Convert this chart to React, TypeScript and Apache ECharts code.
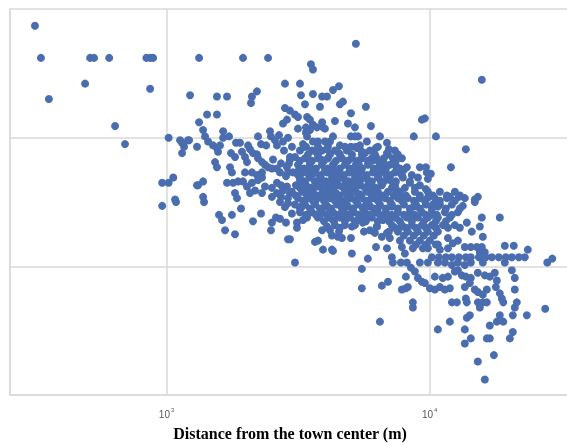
import React, { useEffect, useRef } from "react";
import * as echarts from "echarts";

// [distance (m), value]
const leftCloud: number[][] = [
  [316, 2.87], [333, 2.62], [357, 2.3], [490, 2.42], [512, 2.62], [530, 2.62], [605, 2.62], [838, 2.62],
  [866, 2.62], [889, 2.62], [866, 2.38], [637, 2.09], [695, 1.95], [1018, 2.0], [1125, 1.98], [1145, 1.96],
  [1165, 1.93], [1217, 1.98], [1228, 2.33], [1329, 2.62], [1329, 2.12], [1305, 1.93], [962, 1.65], [1018, 1.65],
  [1060, 1.69], [962, 1.47], [1086, 1.5], [1145, 1.88], [1305, 1.63], [1206, 1.98], [1317, 1.63], [1077, 1.52],
];

const midCloud: number[][] = [
  [1952, 2.62], [2430, 2.62], [2818, 2.42], [1554, 2.32], [1697, 2.32], [2206, 2.36], [2111, 2.32], [2093, 2.27],
  [2818, 2.23], [1425, 2.18], [1554, 2.18], [2770, 2.11], [2868, 2.14], [1376, 2.06], [1640, 2.05], [2472, 2.05],
  [1400, 2.01], [1438, 1.97], [1502, 1.94], [1554, 1.92], [1596, 1.94], [1640, 2.0], [1568, 1.89], [1727, 2.01],
  [1836, 1.96], [1901, 1.96], [1757, 1.88], [1820, 1.85], [2226, 2.01], [2285, 1.95], [2493, 2.01], [2582, 1.98],
  [2675, 2.02], [2770, 1.97], [2893, 2.0], [1935, 1.89], [1986, 1.85], [2021, 1.81], [2075, 1.91], [2130, 1.88],
  [2206, 1.87], [2226, 1.84], [2305, 1.81], [2366, 1.79], [2430, 1.77], [2538, 1.83], [2514, 1.76], [2628, 1.76],
  [2722, 1.8], [2868, 1.77], [2944, 1.83], [1528, 1.81], [1554, 1.77], [1742, 1.77], [1772, 1.73], [2206, 1.71],
  [2305, 1.69], [1376, 1.66], [1697, 1.65], [1790, 1.65], [1868, 1.66], [1952, 1.66], [2021, 1.62], [2111, 1.65],
  [2168, 1.59], [2226, 1.67], [2366, 1.62], [2514, 1.61], [2628, 1.65], [2722, 1.63], [2868, 1.62], [1820, 1.57],
  [1852, 1.53], [1376, 1.54], [2514, 1.54], [2722, 1.54], [1388, 1.5], [1582, 1.4], [1624, 1.36], [1772, 1.4],
  [1918, 1.45], [1668, 1.28], [1820, 1.25], [2130, 1.35], [2285, 1.41], [2493, 1.28], [2514, 1.34], [2605, 1.38],
  [2698, 1.37], [2818, 1.46], [2893, 1.49], [2893, 1.21], [2698, 1.5],
  [2040, 1.94], [2390, 1.94], [2628, 1.94], [1986, 1.73], [2111, 1.73], [2305, 1.73], [2698, 1.73], [2893, 1.73],
  [2075, 1.57], [2305, 1.57], [2628, 1.57], [2944, 1.57],
];

const upperCloud: number[][] = [
  [5240, 2.73], [3537, 2.57], [3600, 2.53], [3213, 2.42], [3242, 2.33], [3600, 2.34], [4290, 2.37], [4520, 2.4],
  [3900, 2.32], [4070, 2.32], [3357, 2.26], [3827, 2.24], [4559, 2.26], [4680, 2.28], [5020, 2.19], [5720, 2.24],
  [2944, 2.21], [3076, 2.18], [3158, 2.16], [3420, 2.16], [3507, 2.14], [4364, 2.13], [3900, 2.12], [3930, 2.08],
  [3158, 2.07], [3385, 2.08], [3507, 2.06], [3600, 2.1], [3730, 2.08], [3998, 2.07], [4890, 2.11], [5198, 2.08],
  [5980, 2.09], [9340, 2.14], [3385, 2.04], [3420, 2.01], [5020, 2.01], [5198, 2.01], [5340, 2.01], [6468, 2.01],
  [8700, 2.01], [4290, 2.01], [4177, 1.97], [3998, 1.97], [3760, 1.97], [3600, 1.97], [3300, 1.95], [4559, 1.94],
  [5430, 1.94], [5770, 1.97], [6880, 1.96], [5290, 1.92], [5673, 1.88], [6880, 1.88], [6250, 1.85], [7245, 1.84],
  [2944, 1.85], [3076, 1.85], [8190, 1.77], [9177, 1.77], [8550, 1.71], [9020, 1.69], [8408, 1.65], [7500, 1.77],
  [7704, 1.73],
  [2995, 1.93], [3387, 1.93], [3760, 1.93], [4105, 1.93], [4762, 1.93], [5240, 1.93], [6355, 1.93],
];

// dense core, read row by row: level value and the distances on that row
const coreLevels: number[] = [
  1.9, 1.87, 1.84, 1.82, 1.79, 1.76, 1.73, 1.71, 1.69, 1.66, 1.63, 1.61, 1.58, 1.55, 1.53, 1.51,
  1.48, 1.45, 1.42, 1.4, 1.38, 1.35, 1.32, 1.3, 1.27, 1.24, 1.2, 1.17, 1.14, 1.03,
];
const coreDistances: number[][] = [
  [3213, 3570, 3895, 4364, 4845, 5926, 7375],
  [3447, 3760, 4177, 4559, 5065, 5526, 6191, 6937, 7570],
  [3357, 3760, 4105, 4640, 5065, 5526, 6030, 6698, 7840],
  [3213, 3570, 3964, 4403, 4888, 5335, 5823, 6355, 7440],
  [3158, 3507, 3895, 4290, 4762, 5240, 5823, 6468, 7059],
  [3328, 3697, 4105, 4559, 4975, 5526, 6137, 6816, 7704],
  [3020, 3300, 3664, 4070, 4480, 4975, 5478, 6083, 6757, 7375],
  [3158, 3477, 3861, 4290, 4720, 5240, 5773, 6411, 7059, 7840],
  [3213, 3507, 3827, 4250, 4680, 5198, 5723, 6355, 7059, 7910],
  [3357, 3664, 4033, 4440, 4930, 5430, 6030, 6698, 7440, 8408],
  [3100, 3387, 3730, 4105, 4480, 4930, 5430, 5926, 6582, 7375, 9177],
  [3213, 3538, 3895, 4290, 4720, 5150, 5673, 6245, 7184, 8049, 8784],
  [2995, 3270, 3600, 3930, 4325, 4762, 5240, 5773, 6355, 6937, 7704, 8784, 9840, 10931, 12462],
  [3100, 3417, 3760, 4140, 4559, 4975, 5478, 6030, 6640, 7310, 8120, 9177, 10280, 11625, 13020],
  [3158, 3447, 3760, 4177, 4559, 5020, 5526, 6137, 6757, 7570, 8262, 9177, 10463, 11625, 13601],
  [3300, 3600, 3964, 4364, 4804, 5240, 5773, 6355, 7059, 7840, 8706, 9587, 10931, 12462],
  [3076, 3357, 3664, 4033, 4440, 4845, 5335, 5874, 6468, 7184, 7980, 8862, 9670, 10931, 12140],
  [3213, 3507, 3827, 4214, 4640, 5065, 5575, 6137, 6816, 7570, 8408, 9177, 10190, 11520, 13020],
  [3213, 3570, 3895, 4290, 4720, 5150, 5673, 6245, 6816, 7570, 8408, 9340, 10190, 11419, 12800],
  [3387, 3697, 4070, 4480, 4930, 5382, 5926, 6468, 7184, 7980, 8784, 9670, 10648, 12140],
  [3760, 4140, 4559, 4975, 5430, 6030, 6640, 7375, 8190, 9020, 9840, 10740, 11930],
  [3964, 4325, 4762, 5198, 5723, 6355, 6998, 7704, 8556, 9503, 10555, 11520],
  [4364, 4762, 7184, 7840, 8556, 9340, 10190, 11220, 12462],
  [4559, 7375, 8120, 8862, 9670, 10555, 11730],
  [7570, 8262, 9020, 9840, 10740],
  [7980, 8706, 9503, 10370],
  [8408, 9177, 10015],
  [8862, 9670, 10555],
  [8630, 9420, 9840, 11730],
  [9177, 9840, 10740],
];

// further points inside the densest part of the core
const coreFill: number[][] = [
  [3507, 1.75], [4325, 1.75], [5288, 1.75], [6525, 1.75], [7980, 1.75],
  [3213, 1.67], [3895, 1.67], [4762, 1.67], [5823, 1.67], [7059, 1.67],
  [3387, 1.6], [4105, 1.6], [4975, 1.6], [6030, 1.6], [7440, 1.6],
  [3600, 1.535], [4403, 1.535], [5335, 1.535], [6468, 1.535], [7840, 1.535], [9840, 1.535],
  [3270, 1.465], [3998, 1.465], [4845, 1.465], [5926, 1.465], [7184, 1.465], [8706, 1.465], [10740, 1.465],
  [3827, 1.4], [4680, 1.4], [5673, 1.4], [6937, 1.4], [8408, 1.4], [10190, 1.4],
  [2794, 1.9], [2918, 1.8], [2843, 1.7], [2770, 1.59], [2893, 1.53], [2995, 1.41], [3130, 1.3], [2843, 1.34],
  [3328, 1.93], [3697, 1.89], [4070, 1.91], [4520, 1.88], [5020, 1.93], [5526, 1.89], [6245, 1.92], [6998, 1.91],
  [3507, 1.81], [3861, 1.83], [4325, 1.8], [4888, 1.82], [5382, 1.79], [6030, 1.82], [6698, 1.8], [7440, 1.78],
  [3185, 1.75], [3600, 1.72], [3998, 1.75], [4403, 1.7], [4930, 1.73], [5526, 1.7], [6137, 1.74], [6877, 1.7],
  [3328, 1.65], [3760, 1.62], [4214, 1.65], [4640, 1.62], [5198, 1.65], [5773, 1.62], [6525, 1.66], [7247, 1.62],
  [3477, 1.55], [3895, 1.55], [4403, 1.57], [4888, 1.54], [5430, 1.56], [6030, 1.53], [6757, 1.55], [7570, 1.58],
  [3270, 1.47], [3664, 1.49], [4105, 1.46], [4600, 1.48], [5110, 1.45], [5723, 1.48], [6355, 1.45], [7121, 1.47],
  [3417, 1.38], [3827, 1.4], [4290, 1.36], [4804, 1.39], [5335, 1.36], [5978, 1.39], [6640, 1.36], [7440, 1.38],
  [4070, 1.31], [4520, 1.27], [5065, 1.31], [5624, 1.27], [6300, 1.31], [6998, 1.27], [7840, 1.31],
];

const rightTail: number[][] = [
  [15780, 2.45], [10560, 2.01], [9587, 2.15], [13720, 1.91], [12040, 1.77], [9670, 1.77], [9750, 1.73], [10100, 1.72],
  [9840, 1.68], [9670, 1.6], [11930, 1.54], [12910, 1.54], [15240, 1.54], [14844, 1.52],
  [3076, 1.03], [2944, 1.21], [3130, 1.34], [3300, 1.36], [3420, 1.4], [3664, 1.19], [3760, 1.2], [3900, 1.28],
  [4177, 1.28], [4250, 1.24], [4480, 1.23], [4640, 1.22], [5020, 1.22], [3930, 1.13], [4250, 1.13], [4290, 1.12],
  [5060, 1.1], [5198, 1.32], [5820, 1.06], [5520, 0.98], [5520, 0.83], [6580, 0.85], [6940, 0.88], [6468, 0.57],
  [8630, 0.72], [8630, 0.68], [7840, 0.82], [8120, 0.83], [8260, 0.84], [7180, 1.07], [7245, 1.03], [6250, 1.15],
  [6880, 1.14], [5570, 1.34], [5926, 1.28], [6191, 1.26], [6300, 1.31], [6580, 1.23], [6880, 1.26], [7059, 1.22],
  [7704, 1.2], [7840, 1.15], [8049, 1.1], [7770, 1.03], [8190, 1.03], [8480, 0.99], [8784, 0.96], [8120, 0.92],
  [9020, 0.91], [9340, 0.88], [9587, 0.87],
  [10300, 1.48], [13360, 1.47], [14844, 1.5], [15780, 1.38], [18471, 1.38], [13840, 1.34], [14460, 1.27], [15508, 1.31],
  [13020, 1.3], [15920, 1.23], [11730, 1.22], [12250, 1.18], [12800, 1.2], [10740, 1.17], [10931, 1.13], [13601, 1.15],
  [14330, 1.15], [15100, 1.15], [15780, 1.15], [15508, 1.11], [16200, 1.11], [19297, 1.16], [20870, 1.16], [23600, 1.13],
  [10190, 1.07], [10830, 1.07], [11520, 1.07], [12140, 1.07], [12900, 1.07], [13720, 1.07], [14330, 1.07], [15380, 1.07],
  [16340, 1.07], [17230, 1.07], [18300, 1.07], [19470, 1.07], [20530, 1.07], [21810, 1.07], [22985, 1.07], [29240, 1.06],
  [27980, 1.03], [19297, 1.03], [15920, 1.03], [11419, 1.03], [12140, 1.01], [12800, 1.03], [13601, 1.01], [14330, 1.03],
  [10463, 0.92], [11210, 0.91], [11730, 0.92], [12462, 0.96], [12800, 0.97], [13250, 0.93], [13720, 0.92], [14330, 0.91],
  [15240, 0.95], [16200, 0.93], [16925, 0.92], [17680, 0.95], [18000, 0.89], [20530, 0.97], [21060, 0.91], [17840, 0.84],
  [18471, 0.79], [18800, 0.75], [19040, 0.72], [10015, 0.83], [10463, 0.82], [10931, 0.84], [11419, 0.82], [11930, 0.83],
  [13601, 0.84], [14209, 0.87], [14844, 0.82], [15240, 0.8], [16490, 0.82], [15920, 0.78], [21060, 0.82], [13720, 0.75],
  [13840, 0.72], [12140, 0.72], [12690, 0.72], [15240, 0.72], [15920, 0.72], [16490, 0.72], [15508, 0.68], [21440, 0.72],
  [21060, 0.68], [20700, 0.62], [23400, 0.62], [27480, 0.67], [14209, 0.62], [13840, 0.6], [11930, 0.57], [10740, 0.51],
  [13601, 0.51], [16925, 0.54], [18000, 0.57], [18471, 0.62], [19040, 0.57], [20700, 0.49], [14330, 0.44], [13601, 0.4],
  [16490, 0.44], [16925, 0.44], [20160, 0.44], [17540, 0.31], [15240, 0.26], [16200, 0.12],
];

const xTickLabels: Record<number, string> = { 3: "3", 4: "4" };
const axisTitle = "Distance from the town center (m)";

export default function App() {
  const ref = useRef<HTMLDivElement>(null);
  useEffect(() => {
    if (!ref.current) return;
    const chart = echarts.init(ref.current, undefined, { renderer: "svg" });
    const core: number[][] = [];
    coreLevels.forEach((v, i) => coreDistances[i].forEach((d) => core.push([d, v])));
    const data = [...leftCloud, ...midCloud, ...upperCloud, ...core, ...coreFill, ...rightTail];
    const grid = "#d9d9d9";
    chart.setOption({
      animation: false,
      grid: {
        left: 10,
        width: 560,
        top: 9,
        height: 386,
        containLabel: false,
        outerBoundsMode: "none",
      },
      xAxis: {
        type: "log",
        logBase: 10,
        min: 254,
        max: 34140,
        axisLine: { show: true, lineStyle: { color: grid, width: 1.5 } },
        axisTick: { show: false },
        splitLine: { show: true, lineStyle: { color: grid, width: 1.5 } },
        axisLabel: {
          margin: 12,
          formatter: (v: number) => {
            const l = Math.log10(v);
            const r = Math.round(l);
            if (Math.abs(l - r) < 1e-6 && xTickLabels[r]) return `{b|10}{s|${xTickLabels[r]}}`;
            return "";
          },
          rich: {
            b: { fontSize: 10, color: "#595959", fontFamily: "Liberation Sans", lineHeight: 12 },
            s: { fontSize: 6, color: "#595959", fontFamily: "Liberation Sans", padding: [0, 0, 8, 1] },
          },
        },
        name: axisTitle,
        nameLocation: "middle",
        nameGap: 30,
        nameTextStyle: {
          fontFamily: "Liberation Serif",
          fontWeight: "bold",
          fontSize: 16,
          color: "#000",
        },
      },
      yAxis: {
        type: "value",
        min: 0,
        max: 3,
        interval: 1,
        axisLine: { show: true, lineStyle: { color: grid, width: 1.5 } },
        axisTick: { show: false },
        axisLabel: { show: false },
        splitLine: { show: true, lineStyle: { color: grid, width: 1.5 } },
      },
      series: [
        {
          type: "scatter",
          data,
          symbolSize: 8,
          itemStyle: { color: "#4a6db0", opacity: 1 },
        },
      ],
    });
    return () => chart.dispose();
  }, []);
  return <div ref={ref} style={{ position: "fixed", left: 0, top: 0, width: 567, height: 443 }} />;
}
